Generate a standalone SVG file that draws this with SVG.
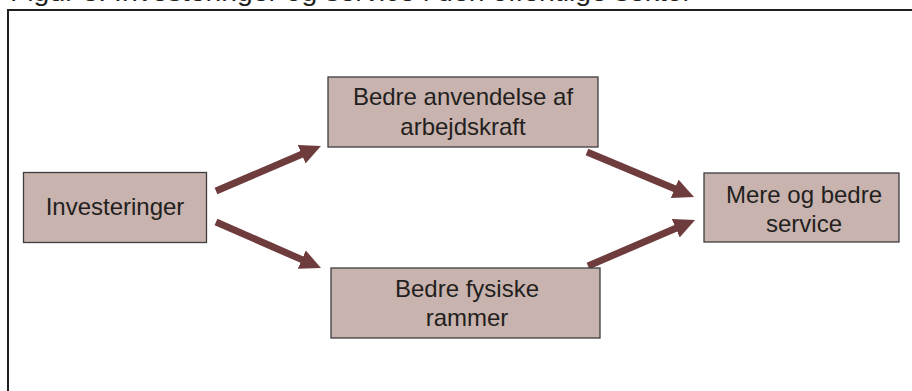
<svg xmlns="http://www.w3.org/2000/svg" width="912" height="391" viewBox="0 0 912 391">
<style>
.box{fill:#c9b3ae;stroke:#3d3d3d;stroke-width:1.3}
.lbl{font-family:"Liberation Sans",Arial,sans-serif;font-size:24px;fill:#231f20;text-anchor:middle}
.arr{stroke:#6f3c3d;stroke-width:7;fill:none;marker-end:url(#ah)}
.title{font-family:"Liberation Sans",Arial,sans-serif;font-size:25px;fill:#231f20}
</style>
<defs>
<marker id="ah" viewBox="0 0 21 20" markerWidth="21" markerHeight="20" markerUnits="userSpaceOnUse" refX="2" refY="10" orient="auto">
<path d="M0,0 L21,10 L0,20 z" fill="#6f3c3d"/>
</marker>
</defs>
<rect width="912" height="391" fill="#ffffff"/>
<text class="title" x="10" y="1" textLength="682" lengthAdjust="spacingAndGlyphs">Figur 3. Investeringer og service i den offentlige sektor</text>
<path d="M8,391 V10 H912" fill="none" stroke="#231f20" stroke-width="2"/>
<g id="connectors">
<line class="arr" x1="216" y1="191" x2="303.5" y2="153.5"/>
<line class="arr" x1="216" y1="222" x2="303.6" y2="260.4"/>
<line class="arr" x1="587" y1="152" x2="676.5" y2="189.6"/>
<line class="arr" x1="588" y1="266" x2="677.6" y2="227.5"/>
</g>
<g id="investeringer">
<rect class="box" x="23.5" y="172.5" width="183" height="70"/>
<text class="lbl" x="115" y="215">Investeringer</text>
</g>
<g id="arbejdskraft">
<rect class="box" x="328" y="77" width="270" height="70"/>
<text class="lbl" x="463" y="105">Bedre anvendelse af</text>
<text class="lbl" x="463" y="135">arbejdskraft</text>
</g>
<g id="fysiske">
<rect class="box" x="331" y="268" width="269" height="70"/>
<text class="lbl" x="467" y="297">Bedre fysiske</text>
<text class="lbl" x="467" y="326">rammer</text>
</g>
<g id="service">
<rect class="box" x="704" y="173" width="195" height="69"/>
<text class="lbl" x="804" y="203">Mere og bedre</text>
<text class="lbl" x="804" y="232">service</text>
</g>
</svg>
